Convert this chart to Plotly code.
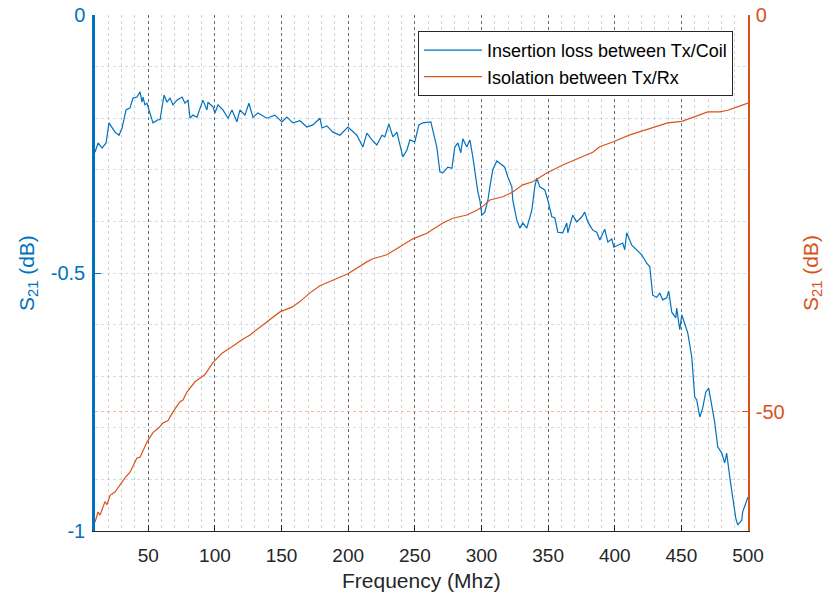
import plotly.graph_objects as go

# Insertion loss between Tx/Coil (left axis, dB)
freq_il = [10, 12.3, 15.3, 18.3, 20.5, 25.0, 28.0, 30.3, 33.3, 36.3, 38.5, 41.5, 43.8, 45.3, 46.0, 47.5, 49.0,
           53.5, 57.3, 58.8, 61.8, 64.0, 66.3, 68.5, 71.5, 75.3, 77.5, 79.8, 81.3, 83.5, 86.5, 90.3, 91.0,
           94.0, 94.8, 98.5, 100.0, 102.3, 106.0, 109.8, 112.8, 116.5, 118.8, 122.5, 125.5, 128.5, 132.3,
           139.0, 145.0, 150.3, 154.0, 158.5, 163.8, 169.0, 173.5, 178.8, 180.3, 184.0, 188.5, 193.8, 199.8,
           206.5, 211.0, 214.0, 217.8, 221.5, 225.3, 227.5, 230.5, 233.5, 236.5, 241.0, 244.0, 246.3, 250.0,
           253.0, 256.0, 262.0, 266.5, 268.8, 271.0, 274.8, 277.8, 280.0, 282.3, 284.5, 286.0, 289.0, 291.3,
           293.5, 295.0, 297.3, 298.8, 300.3, 302.5, 304.8, 306.3, 308.5, 311.5, 313.8, 317.5, 319.8, 322.8,
           323.5, 326.5, 328.8, 331.0, 334.0, 337.8, 340.0, 341.5, 343.8, 347.5, 349.8, 352.8, 355.0, 357.3,
           361.0, 364.0, 364.8, 368.5, 371.5, 375.3, 377.5, 379.8, 383.5, 386.5, 388.8, 392.5, 394.8, 397.8,
           399.3, 402.3, 406.0, 407.5, 409.0, 412.8, 416.5, 420.3, 424.0, 426.3, 428.5, 431.5, 433.8, 436.0,
           439.0, 440.5, 442.8, 445.8, 446.5, 448.8, 450.3, 452.5, 454.8, 457.8, 460.0, 461.5, 463.8, 466.0,
           468.3, 470.5, 472.8, 475.0, 477.3, 480.3, 482.5, 484.0, 486.3, 488.5, 490.8, 492.3, 495.3, 496.0,
           499.0, 500.0]
loss_il = [-0.266, -0.248, -0.258, -0.248, -0.209, -0.227, -0.233, -0.219, -0.184, -0.180, -0.161, -0.159,
           -0.149, -0.169, -0.159, -0.174, -0.171, -0.209, -0.203, -0.203, -0.155, -0.169, -0.161, -0.174,
           -0.165, -0.159, -0.171, -0.165, -0.200, -0.194, -0.198, -0.169, -0.165, -0.184, -0.169, -0.178,
           -0.190, -0.174, -0.184, -0.200, -0.184, -0.207, -0.184, -0.194, -0.171, -0.198, -0.190, -0.200,
           -0.194, -0.207, -0.198, -0.209, -0.205, -0.217, -0.213, -0.200, -0.219, -0.215, -0.227, -0.233,
           -0.217, -0.233, -0.256, -0.229, -0.242, -0.252, -0.233, -0.236, -0.211, -0.236, -0.227, -0.275,
           -0.262, -0.242, -0.246, -0.213, -0.209, -0.207, -0.256, -0.304, -0.306, -0.295, -0.297, -0.256,
           -0.248, -0.267, -0.240, -0.256, -0.242, -0.275, -0.306, -0.343, -0.359, -0.388, -0.382, -0.359,
           -0.333, -0.300, -0.283, -0.287, -0.295, -0.314, -0.333, -0.359, -0.397, -0.413, -0.403, -0.413,
           -0.378, -0.333, -0.316, -0.333, -0.339, -0.359, -0.391, -0.393, -0.421, -0.422, -0.403, -0.422,
           -0.388, -0.401, -0.391, -0.382, -0.401, -0.417, -0.421, -0.436, -0.415, -0.440, -0.434, -0.450,
           -0.446, -0.442, -0.455, -0.422, -0.446, -0.455, -0.465, -0.481, -0.488, -0.543, -0.547, -0.539,
           -0.552, -0.548, -0.535, -0.576, -0.587, -0.568, -0.610, -0.581, -0.597, -0.616, -0.663, -0.740,
           -0.746, -0.779, -0.762, -0.731, -0.723, -0.756, -0.789, -0.837, -0.849, -0.868, -0.849, -0.895,
           -0.934, -0.975, -0.988, -0.979, -0.963, -0.944, -0.934]

# Isolation between Tx/Rx (right axis, dB)
freq_iso = [10, 12.3, 13.8, 17.5, 19.0, 21.3, 25.0, 28.8, 32.5, 36.3, 41.5, 43.8, 49.0, 53.5, 57.3, 61.0,
            64.8, 68.5, 73.8, 76.0, 79.0, 85.0, 92.5, 98.5, 105.3, 112.8, 120.3, 126.3, 136.0, 142.8, 148.8,
            157.8, 163.8, 171.3, 178.8, 191.5, 199.8, 214.0, 218.5, 229.0, 238.8, 248.5, 259.0, 271.0, 278.5,
            289.0, 296.5, 300.3, 306.3, 316.0, 323.5, 331.0, 338.5, 349.0, 361.0, 373.8, 383.5, 388.8, 398.5,
            411.3, 418.8, 428.5, 439.8, 450.3, 460.0, 469.8, 478.8, 484.8, 491.5, 500.0]
iso_db = [-63.9, -62.6, -63.0, -61.3, -61.7, -60.5, -60.1, -59.2, -58.3, -57.6, -55.8, -55.7, -53.8, -52.6,
          -52.1, -51.4, -51.1, -50.0, -48.7, -48.5, -47.5, -46.2, -45.3, -43.8, -42.6, -41.8, -40.9, -40.3,
          -39.0, -38.2, -37.4, -36.8, -36.1, -35.0, -34.1, -33.2, -32.6, -31.1, -30.7, -30.2, -29.2, -28.2,
          -27.5, -26.2, -25.6, -25.2, -24.6, -24.2, -23.3, -22.9, -22.3, -21.4, -21.0, -19.9, -18.9, -18.0,
          -17.3, -16.6, -16.0, -15.1, -14.7, -14.2, -13.6, -13.4, -12.8, -12.2, -12.2, -12.0, -11.6, -11.1]

x_ticks = [50, 100, 150, 200, 250, 300, 350, 400, 450, 500]
y1_ticks = [0, -0.5, -1]
y1_text = ["0", "-0.5", "-1"]
y2_ticks = [0, -50]
y2_text = ["0", "-50"]

BLUE = "#0072BD"
ORANGE = "#D95319"
FONT = "Arial, Liberation Sans, sans-serif"

fig = go.Figure()
fig.add_trace(go.Scatter(x=freq_il, y=loss_il, mode="lines", yaxis="y",
                         name="Insertion loss between Tx/Coil",
                         line=dict(color=BLUE, width=1.2)))
fig.add_trace(go.Scatter(x=freq_iso, y=iso_db, mode="lines", yaxis="y2",
                         name="Isolation between Tx/Rx",
                         line=dict(color=ORANGE, width=1.2)))

fig.update_layout(
    width=825, height=597,
    margin=dict(l=95, r=77, t=15, b=66, autoexpand=False),
    paper_bgcolor="white", plot_bgcolor="white",
    font=dict(family=FONT, color="#262626"),
    showlegend=True,
    legend=dict(x=0.977, y=0.969, xanchor="right", yanchor="top",
                bgcolor="white", bordercolor="#262626", borderwidth=1,
                itemwidth=58, tracegroupgap=0,
                font=dict(size=18, color="#000000")),
    xaxis=dict(range=[10, 500], tickvals=x_ticks, ticks="inside", ticklen=6,
               tickcolor="#262626", showline=True, linecolor="#262626", linewidth=1,
               tickfont=dict(size=19, color="#262626"), automargin=False,
               ticklabelstandoff=7,
               showgrid=True, gridcolor="rgba(70,70,70,0.75)", griddash="dot", gridwidth=1,
               zeroline=False,
               minor=dict(dtick=10, tick0=0, showgrid=True, gridcolor="rgba(160,160,160,0.45)",
                          griddash="dot", gridwidth=1, ticks="")),
    yaxis=dict(range=[-1, 0], tickvals=y1_ticks, ticktext=y1_text, ticks="inside", ticklen=6,
               tickcolor=BLUE, showline=True, linecolor=BLUE, linewidth=2.5,
               tickfont=dict(size=20, color=BLUE), automargin=False,
               ticklabelstandoff=3,
               showgrid=False, zeroline=False,
               minor=dict(dtick=0.1, tick0=0, showgrid=True, gridcolor="rgba(120,170,215,0.38)",
                          griddash="dot", gridwidth=1, ticks="")),
    yaxis2=dict(range=[-65, 0], overlaying="y", side="right", tickvals=y2_ticks, ticktext=y2_text,
                ticks="inside", ticklen=6, tickcolor=ORANGE, showline=True, linecolor=ORANGE,
                linewidth=1.5, tickfont=dict(size=20, color=ORANGE), automargin=False,
                ticklabelstandoff=2,
                showgrid=True, gridcolor="rgba(240,160,120,0.75)", griddash="dot", gridwidth=1,
                zeroline=False),
    annotations=[
        dict(text="Frequency (Mhz)", xref="paper", yref="paper", x=0.5, y=-0.095,
             xanchor="center", yanchor="middle", showarrow=False,
             font=dict(size=21, color="#262626", family=FONT)),
        dict(text="S<sub>21</sub> (dB)", xref="paper", yref="paper", x=-0.1026, y=0.5,
             xanchor="center", yanchor="middle", showarrow=False, textangle=-90,
             font=dict(size=21, color=BLUE, family=FONT)),
        dict(text="S<sub>21</sub> (dB)", xref="paper", yref="paper", x=1.098, y=0.5,
             xanchor="center", yanchor="middle", showarrow=False, textangle=-90,
             font=dict(size=21, color=ORANGE, family=FONT)),
    ],
)

fig.write_html("out.html")
